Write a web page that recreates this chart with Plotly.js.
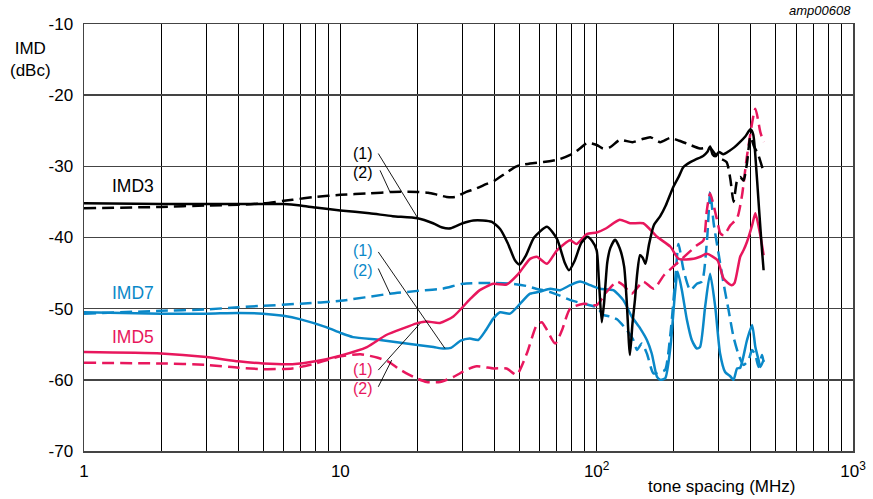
<!DOCTYPE html>
<html><head><meta charset="utf-8">
<script src="https://cdn.plot.ly/plotly-3.0.1.min.js"></script>
<style>html,body{margin:0;padding:0;background:#fff}#chart{width:873px;height:499px}</style>
</head><body><div id="chart"></div>
<script>
// tone spacing (MHz) and IMD (dBc)
const imd3SolidF = [1,2,3,4,5,6,7,8,10,13,16,20,23,25,27,30,33,36,39,42,45,48,50,53,57,64,70,75,78,82,87,92,96,100,102,104.7,107,110,113,118,123,128,131,134.8,138,141,144,147.6,151,155,160,167,177,186,199,210,218,232,245,261,270,277,283,290,300,312,330,345,362,380,398,408,415,430,442,448];
const imd3SolidY = [-35.2,-35.3,-35.3,-35.3,-35.3,-35.3,-35.5,-35.8,-36.2,-36.6,-37.0,-37.3,-38.0,-38.6,-38.7,-38.0,-37.6,-37.6,-37.8,-38.8,-40.8,-43.2,-43.8,-42.5,-40.0,-38.5,-40.2,-43.5,-44.6,-43.3,-40.8,-39.9,-40.5,-41.8,-46.0,-51.9,-49.0,-43.5,-41.5,-40.3,-41.5,-44.1,-49.0,-56.5,-52.0,-48.8,-45.0,-42.5,-42.8,-43.7,-41.0,-38.3,-37.0,-35.5,-32.9,-31.3,-30.1,-29.4,-29.0,-28.5,-28.0,-27.2,-28.3,-28.6,-28.0,-28.3,-27.8,-27.3,-26.6,-25.8,-24.8,-25.5,-28.0,-36.0,-42.0,-44.6];

const imd3DashF = [1,2,3,4,5,6.5,8,10,13,16,20,22,24,26,28,29.3,31,34,37,40,44,48.7,55,62,71.6,81,86,92,100,106,113,123,138,150,162,177,194,210,225,253,277,296,321,332,342,353,363,374,386,398,410,428,448];
const imd3DashY = [-35.9,-35.7,-35.5,-35.4,-35.2,-34.7,-34.3,-34.0,-33.8,-33.6,-33.6,-33.7,-34.0,-34.3,-34.3,-34.0,-33.6,-33.1,-32.5,-32.0,-31.0,-30.0,-29.6,-29.4,-29.0,-28.2,-27.5,-26.7,-27.0,-27.5,-27.3,-26.3,-26.6,-26.2,-25.9,-26.6,-26.0,-26.4,-26.8,-27.5,-27.4,-28.7,-29.4,-31.7,-35.0,-32.0,-31.5,-32.0,-29.5,-25.8,-27.1,-28.5,-30.8];

const imd5SolidF = [1,2,3,4,5,6.5,8,10,12.7,15.1,18.1,20.1,21.7,24.5,27.6,32,35,39.5,44.5,49.5,55,58.4,64,70,78.8,83.6,91.8,100,109,123,135,152,172,194,209,239,253,269,296,313,336,345,363,374,386,404,416,435,448];
const imd5SolidY = [-56.1,-56.3,-56.8,-57.4,-57.7,-57.8,-57.4,-56.6,-55.4,-53.7,-52.6,-52.0,-51.8,-52.0,-51.1,-48.7,-47.4,-46.5,-46.6,-45.1,-43.0,-42.7,-43.7,-41.8,-40.4,-40.9,-39.5,-39.3,-38.7,-37.5,-38.0,-38.0,-39.9,-41.3,-43.0,-43.0,-42.7,-42.3,-43.2,-45.8,-46.7,-46.4,-42.7,-41.8,-40.6,-38.3,-36.6,-39.7,-42.5];

const imd5DashF = [1,2,3,4,5,6.5,8,10,12,14,15.5,17,19.3,21.7,24.5,27.6,31,34,39.6,44.5,48.7,53.4,58.4,61.1,64,68.9,73.3,78.8,89,100,109,120,127,137,152,167,183,199,218,246,261,269,277,296,303.5,313,332,353,369,386,416,435,448];
const imd5DashY = [-57.6,-57.7,-57.9,-58.3,-58.5,-58.4,-57.7,-56.7,-56.4,-56.9,-57.5,-58.5,-59.6,-60.3,-60.3,-59.6,-58.6,-58.1,-58.4,-58.4,-59.3,-56.3,-52.3,-51.9,-53.0,-54.9,-53.0,-50.0,-49.3,-49.5,-47.7,-46.2,-46.7,-47.9,-46.2,-47.2,-45.3,-44.1,-42.8,-41.1,-40.4,-36.2,-33.8,-37.8,-39.4,-39.7,-38.3,-37.3,-34.1,-28.5,-21.9,-25.2,-26.6];

const imd7SolidF = [1,2,3,4,5,6,7,8.8,10,11.2,14.3,18.1,23.1,25.2,27,29.5,32,34.5,37,39.5,42,45.9,50.3,55,60.2,65.9,72,78.8,86.2,94.3,103,116,127,137,148,157,164,172,177,185,194,202,207,215,225,235,246,253,265,277,290,303,317,332,342,353,363,386,404,416,428,435,448];
const imd7SolidY = [-50.5,-50.7,-50.7,-50.6,-50.7,-51.0,-51.5,-52.6,-53.4,-54.0,-54.4,-54.9,-55.4,-55.6,-55.5,-54.5,-54.2,-54.4,-53.0,-51.4,-50.5,-50.7,-49.3,-47.9,-47.6,-47.2,-47.4,-46.7,-46.2,-46.7,-47.2,-47.4,-48.8,-51.1,-52.8,-54.4,-56.3,-59.6,-60.0,-59.8,-55.4,-47.9,-44.8,-47.4,-51.6,-54.4,-55.6,-55.4,-49.7,-45.1,-49.7,-56.3,-58.9,-59.5,-60.0,-58.4,-58.3,-54.4,-52.3,-55.4,-57.2,-58.2,-57.2];

const imd7DashF = [1,2,3,4,5,7,10,15.6,20,25,30,35,40,47,53,58,65,71,79,89,100,106.6,113,120,131,139,143.6,150,157,166.6,177,185,194,202.5,208.6,218.3,231.8,246,257.5,269.4,277.4,286,299,312.8,327,342,358,374,391.6,403.6,415.8,428,441.8,448];
const imd7DashY = [-50.7,-50.3,-50.1,-49.8,-49.6,-49.3,-48.9,-47.9,-47.5,-47.2,-46.5,-46.4,-46.4,-46.5,-46.8,-47.2,-47.6,-48.1,-48.8,-49.3,-49.8,-50.9,-51.1,-51.5,-53.0,-54.4,-55.8,-54.9,-56.3,-59.1,-58.9,-58.6,-53.5,-46.0,-40.9,-44.6,-47.4,-46.5,-46.2,-40.4,-33.6,-38.0,-42.3,-46.5,-50.2,-54.0,-56.5,-57.9,-57.2,-55.8,-56.5,-58.2,-56.5,-57.5];

const xTickLabels = ['1','10','10<sup>2</sup>','10<sup>3</sup>'];
const yTickVals = [-70,-60,-50,-40,-30,-20,-10];
const yTickText = ['-70','-60','-50','-40','-30','-20','-10'];

const BLACK = '#000000', PINK = '#e8175d', BLUE = '#0a88c8';
const FONT = 'Liberation Sans, Arial, Helvetica, sans-serif';

function tr(x, y, color, dashed) {
  return {x: x, y: y, type: 'scatter', mode: 'lines', hoverinfo: 'skip',
    line: {color: color, width: 2.5, shape: 'spline', smoothing: 0.6, dash: dashed ? '12px,6px' : 'solid'}};
}

// minor/major log grid positions
const tickVals = [], tickText = [];
[1, 10, 100].forEach((d, i) => {
  for (let m = 1; m <= 9; m++) { tickVals.push(m * d); tickText.push(m === 1 ? xTickLabels[i] : ''); }
});
tickVals.push(1000); tickText.push(xTickLabels[3]);

const data = [
  tr(imd7DashF, imd7DashY, BLUE, true),
  tr(imd7SolidF, imd7SolidY, BLUE, false),
  tr(imd5DashF, imd5DashY, PINK, true),
  tr(imd5SolidF, imd5SolidY, PINK, false),
  tr(imd3DashF, imd3DashY, BLACK, true),
  tr(imd3SolidF, imd3SolidY, BLACK, false)
];

const lx = Math.log10;
function lbl(text, f, y, color, size, anchor) {
  return {text: text, x: lx(f), y: y, xref: 'x', yref: 'y', showarrow: false,
    xanchor: anchor || 'center', yanchor: 'middle', font: {family: FONT, size: size, color: color}};
}
const annotations = [
  lbl('IMD3', 1.55, -32.7, BLACK, 17.5),
  lbl('IMD7', 1.55, -47.8, BLUE, 17.5),
  lbl('IMD5', 1.55, -54.0, PINK, 17.5),
  lbl('(1)', 13.7, -28.2, BLACK, 16, 'right'),
  lbl('(2)', 13.7, -30.8, BLACK, 16, 'right'),
  lbl('(1)', 13.7, -41.8, BLUE, 16, 'right'),
  lbl('(2)', 13.7, -44.6, BLUE, 16, 'right'),
  lbl('(1)', 13.7, -58.6, PINK, 16, 'right'),
  lbl('(2)', 13.7, -61.2, PINK, 16, 'right'),
  {text: 'IMD<br>(dBc)', xref: 'paper', yref: 'paper', x: -0.069, y: 0.917, xanchor: 'center', yanchor: 'middle',
   showarrow: false, font: {family: FONT, size: 17, color: BLACK}},
  {text: 'tone spacing (MHz)', xref: 'paper', yref: 'paper', x: 0.9275, y: -0.084, xanchor: 'right', yanchor: 'middle',
   showarrow: false, font: {family: FONT, size: 17, color: BLACK}},
  {text: '<i>amp00608</i>', xref: 'paper', yref: 'paper', x: 1.0, y: 1.032, xanchor: 'right', yanchor: 'middle',
   showarrow: false, font: {family: FONT, size: 13, color: BLACK}}
];

function leader(f0, y0, f1, y1) {
  return {type: 'line', xref: 'x', yref: 'y', x0: f0, y0: y0, x1: f1, y1: y1, line: {color: BLACK, width: 0.9}};
}
const shapes = [
  leader(14.06, -28.2, 20.1, -37.34),
  leader(14.28, -30.56, 15.62, -33.6),
  leader(14.06, -42.03, 25.6, -55.59),
  leader(14.06, -44.36, 15.62, -47.87),
  leader(14.06, -58.63, 20.46, -52.08),
  leader(14.06, -60.98, 15.86, -57.23)
];

const layout = {
  width: 873, height: 499,
  margin: {l: 84, r: 20, t: 24, b: 48, pad: 0},
  paper_bgcolor: '#fff', plot_bgcolor: '#fff',
  showlegend: false,
  font: {family: FONT, size: 17, color: BLACK},
  xaxis: {type: 'log', range: [0, 3], tickmode: 'array', tickvals: tickVals, ticktext: tickText, tickangle: 0,
    showgrid: true, gridcolor: '#000', gridwidth: 1, zeroline: false,
    showline: true, mirror: true, linecolor: '#444', linewidth: 1.5, ticks: '',
    tickfont: {family: FONT, size: 17, color: BLACK}, ticklabelstandoff: 4},
  yaxis: {range: [-70, -10], tickmode: 'array', tickvals: yTickVals, ticktext: yTickText,
    showgrid: true, gridcolor: '#444', gridwidth: 1.4, zeroline: false,
    showline: true, mirror: true, linecolor: '#444', linewidth: 1.5, ticks: '',
    tickfont: {family: FONT, size: 17, color: BLACK}, ticklabelstandoff: 6},
  annotations: annotations,
  shapes: shapes
};

Plotly.newPlot('chart', data, layout, {staticPlot: true, displayModeBar: false});
</script>
</body></html>
